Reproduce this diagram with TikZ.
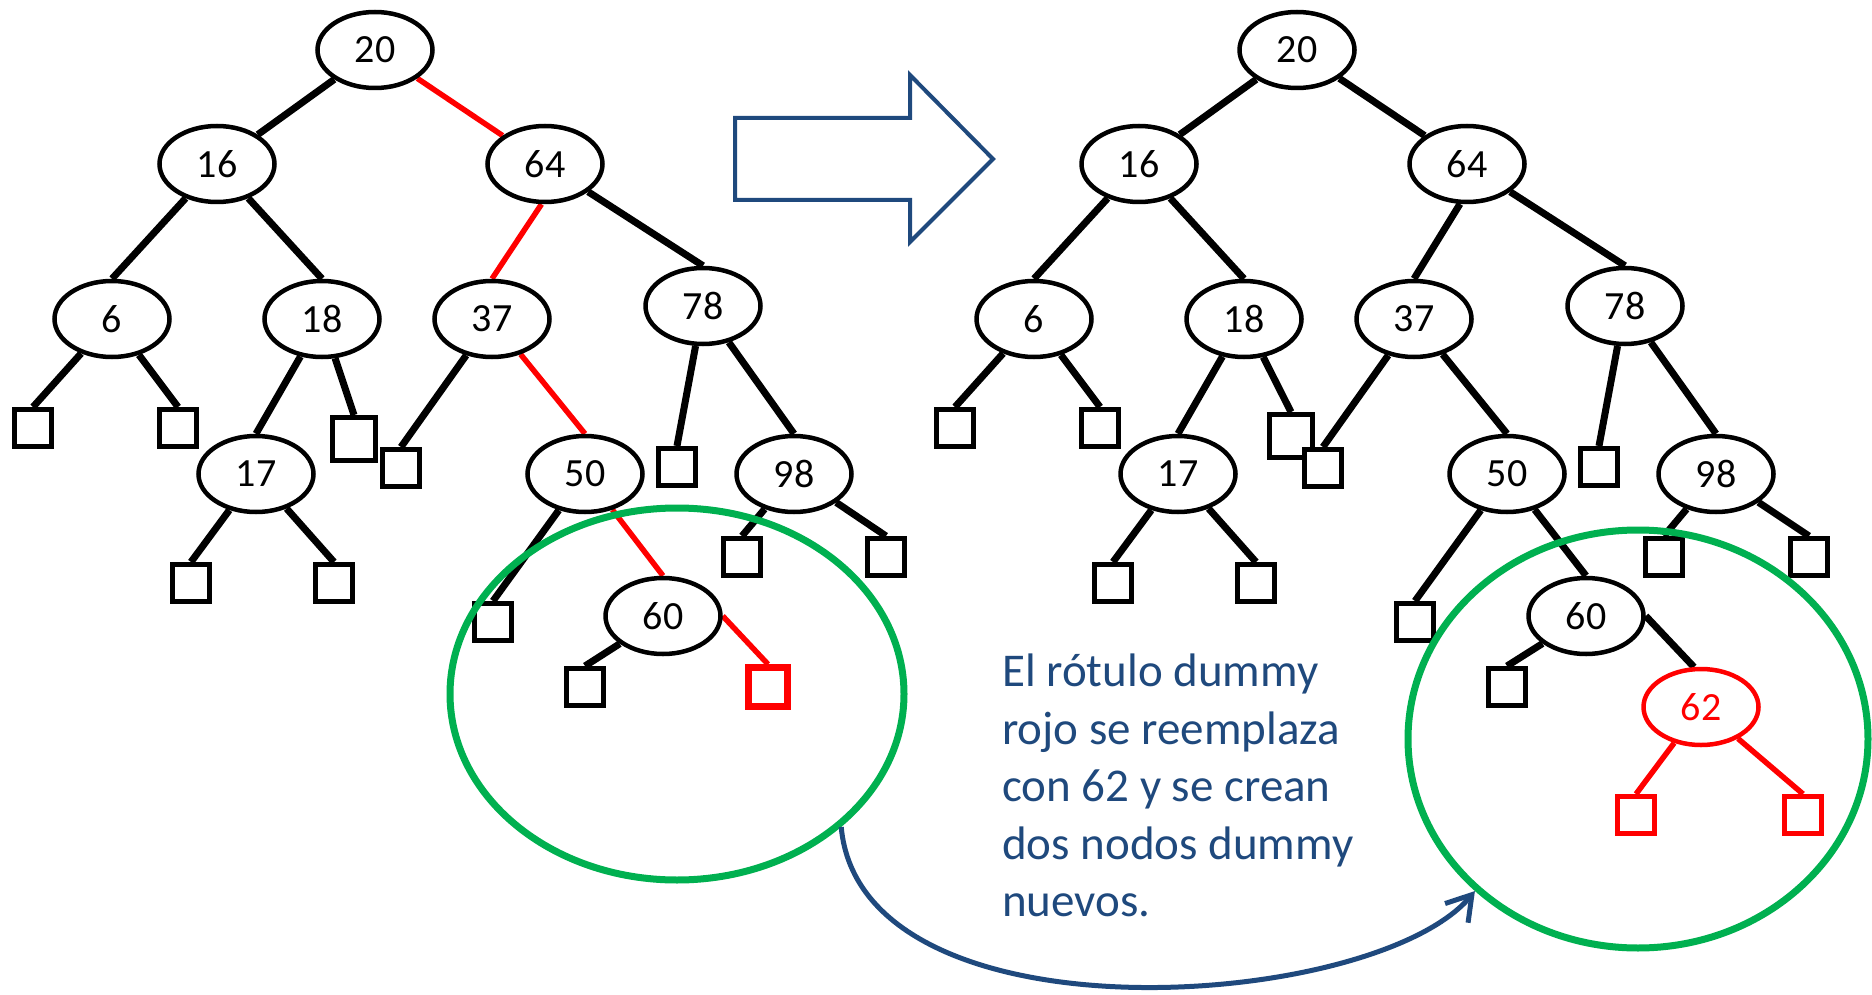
\documentclass[tikz,border=0pt]{standalone}
\usepackage{fontspec}
\setmainfont{Carlito}
\usetikzlibrary{shapes.geometric,arrows.meta,backgrounds}
\definecolor{tgreen}{HTML}{00B050}
\definecolor{tblue}{HTML}{1F497D}
\definecolor{tred}{HTML}{FF0000}
\begin{document}
\begin{tikzpicture}[x=1pt,y=-1pt,
  tn/.style={ellipse,draw,line width=4.5pt,minimum width=115pt,minimum height=76pt,inner sep=0pt,fill=white,font=\fontsize{40}{48}\selectfont},
  rtn/.style={tn,draw=tred,text=tred},
  lf/.style={rectangle,draw,line width=5pt,minimum size=37pt,inner sep=0pt,fill=white},
  rlf/.style={lf,draw=tred},
  bigredlf/.style={lf,draw=tred,line width=6.5pt,minimum size=39pt},
  ed/.style={line width=7pt},
  red/.style={line width=5.5pt,draw=tred},
  grn/.style={ellipse,draw=tgreen,line width=7pt,inner sep=0pt},
]
\useasboundingbox (0,0) rectangle (1872,995);

% ---------- left tree ----------
\node[tn] (a20) at (375,50) {20};
\node[tn] (a16) at (217,164) {16};
\node[tn] (a64) at (545,164) {64};
\node[tn] (a6) at (112,319) {6};
\node[tn] (a18) at (322,319) {18};
\node[tn] (a37) at (492,319) {37};
\node[tn] (a78) at (703,306) {78};
\node[lf] (as6a) at (33,428) {};
\node[lf] (as6b) at (178,428) {};
\node[tn] (a17) at (256,474) {17};
\node[lf,minimum size=43pt] (as18) at (354,439) {};
\node[lf] (as37) at (401,468) {};
\node[tn] (a50) at (585,474) {50};
\node[lf] (as78) at (677,467) {};
\node[tn] (a98) at (794,474) {98};
\node[lf] (as17a) at (191,583) {};
\node[lf] (as17b) at (334,583) {};
\node[lf] (as50) at (493,622) {};
\node[tn] (a60) at (663,616) {60};
\node[lf] (as98a) at (742,557) {};
\node[lf] (as98b) at (886,557) {};
\node[lf] (as60a) at (585,687) {};
\node[bigredlf] (as60b) at (768,687) {};

\begin{scope}[on background layer]
\draw[ed] (a20) -- (a16);
\draw[red] (a20) -- (a64);
\draw[ed] (a16) -- (a6.north);
\draw[ed] (a16) -- (a18.north);
\draw[red] (a64.-95) -- (a37.north);
\draw[ed] (a64) -- (a78.north);
\draw[ed] (a6) -- (as6a.north);
\draw[ed] (a6) -- (as6b.north);
\draw[ed] (a18) -- (a17.north);
\draw[ed] (a18) -- (as18.north);
\draw[ed] (a37) -- (as37.north);
\draw[red] (a37) -- (a50.north);
\draw[ed] (a78) -- (as78.north);
\draw[ed] (a78) -- (a98.north);
\draw[ed] (a17) -- (as17a.north);
\draw[ed] (a17) -- (as17b.north);
\draw[ed] (a50) -- (as50.north);
\draw[red] (a50) -- (a60.north);
\draw[ed] (a98) -- (as98a.north);
\draw[ed] (a98) -- (as98b.north);
\draw[ed] (a60) -- (as60a.north);
\draw[red] (a60.east) -- (as60b.north);
\end{scope}

% ---------- right tree ----------
\node[tn] (b20) at (1297,50) {20};
\node[tn] (b16) at (1139,164) {16};
\node[tn] (b64) at (1467,164) {64};
\node[tn] (b6) at (1034,319) {6};
\node[tn] (b18) at (1244,319) {18};
\node[tn] (b37) at (1414,319) {37};
\node[tn] (b78) at (1625,306) {78};
\node[lf] (bs6a) at (955,428) {};
\node[lf] (bs6b) at (1100,428) {};
\node[tn] (b17) at (1178,474) {17};
\node[lf,minimum size=43pt] (bs18) at (1291,436) {};
\node[lf] (bs37) at (1323,468) {};
\node[tn] (b50) at (1507,474) {50};
\node[lf] (bs78) at (1599,467) {};
\node[tn] (b98) at (1716,474) {98};
\node[lf] (bs17a) at (1113,583) {};
\node[lf] (bs17b) at (1256,583) {};
\node[lf] (bs50) at (1415,622) {};
\node[tn] (b60) at (1586,616) {60};
\node[lf] (bs98a) at (1664,557) {};
\node[lf] (bs98b) at (1809,557) {};
\node[lf] (bs60a) at (1507,687) {};
\node[rtn] (b62) at (1701,707) {62};
\node[rlf] (bs62a) at (1636,815) {};
\node[rlf] (bs62b) at (1803,815) {};

\begin{scope}[on background layer]
\draw[ed] (b20) -- (b16);
\draw[ed] (b20) -- (b64);
\draw[ed] (b16) -- (b6.north);
\draw[ed] (b16) -- (b18.north);
\draw[ed] (b64.-100) -- (b37.north);
\draw[ed] (b64) -- (b78.north);
\draw[ed] (b6) -- (bs6a.north);
\draw[ed] (b6) -- (bs6b.north);
\draw[ed] (b18) -- (b17.north);
\draw[ed] (b18) -- (bs18.north);
\draw[ed] (b37) -- (bs37.north);
\draw[ed] (b37) -- (b50.north);
\draw[ed] (b78) -- (bs78.north);
\draw[ed] (b78) -- (b98.north);
\draw[ed] (b17) -- (bs17a.north);
\draw[ed] (b17) -- (bs17b.north);
\draw[ed] (b50) -- (bs50.north);
\draw[ed] (b50) -- (b60.north);
\draw[ed] (b98) -- (bs98a.north);
\draw[ed] (b98) -- (bs98b.north);
\draw[ed] (b60) -- (bs60a.north);
\draw[ed] (b60.east) -- (b62.100);
\draw[red] (b62) -- (bs62a.north);
\draw[red] (b62) -- (bs62b.north);
\end{scope}

% ---------- block arrow ----------
\draw[tblue,line width=4pt,line join=miter]
  (735,118) -- (910,118) -- (910,75) -- (993,159) -- (910,242) -- (910,200) -- (735,200) -- cycle;

% ---------- green ellipses ----------
\node[grn,minimum width=454pt,minimum height=372pt] (g1) at (677,694) {};
\node[grn,minimum width=460pt,minimum height=418pt] (g2) at (1638,739) {};

% ---------- text ----------
\node[anchor=north west,align=left,inner sep=0pt,text=tblue,
      font=\fontsize{47}{57.5}\selectfont] (txt) at (1002,654)
  {El rótulo dummy\\rojo se reemplaza\\con 62 y se crean\\dos nodos dummy\\nuevos.};

% ---------- curved arrow ----------
\draw[tblue,line width=5pt,-{Straight Barb[length=24pt,width=30pt]}]
  (g1.-39) .. controls +(20,220) and +(-100,120) .. (g2.223);
\end{tikzpicture}
\end{document}
